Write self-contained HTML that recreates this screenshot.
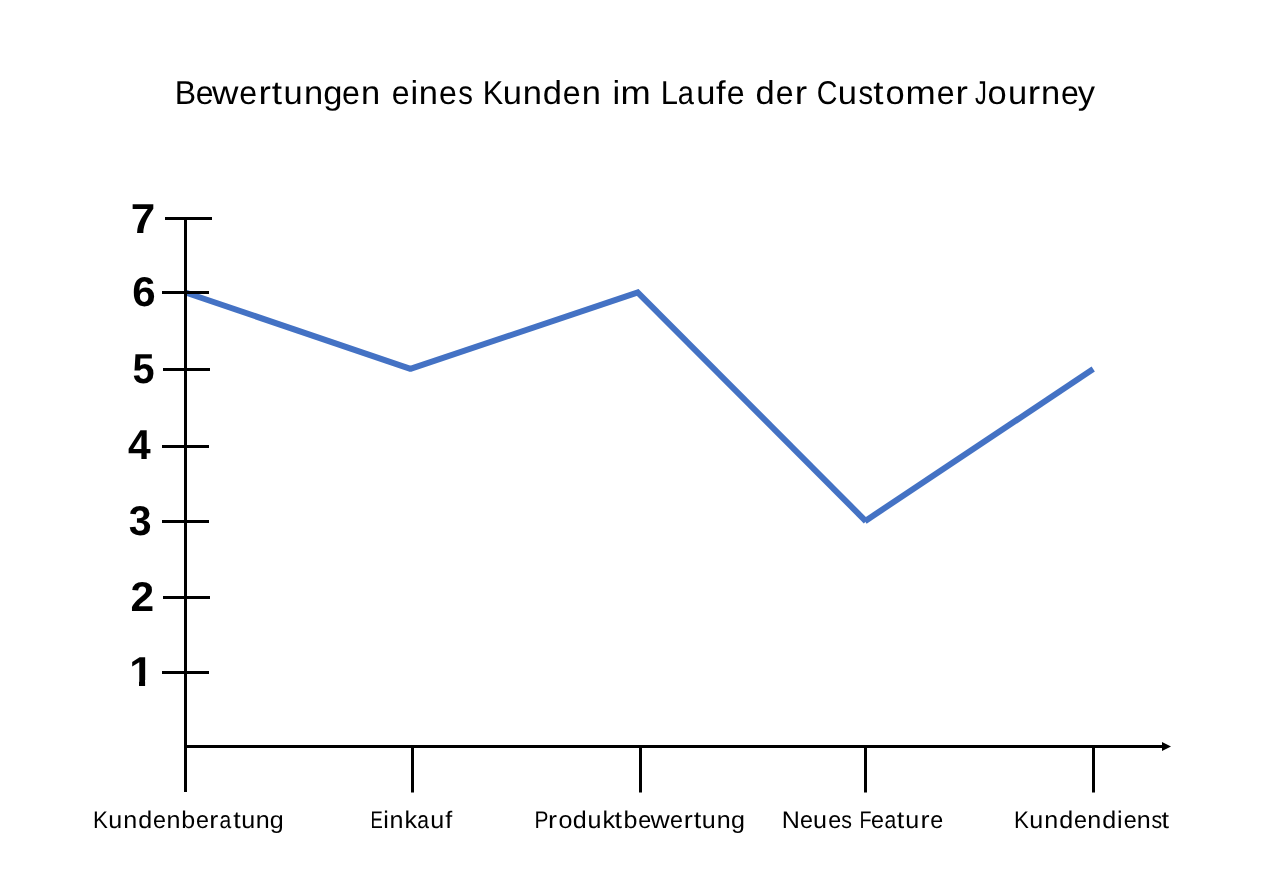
<!DOCTYPE html>
<html lang="de">
<head>
<meta charset="utf-8">
<title>Bewertungen eines Kunden im Laufe der Customer Journey</title>
<style>
  html, body { margin: 0; padding: 0; background: #ffffff; }
  body { width: 1280px; height: 888px; overflow: hidden; }
  svg { display: block; }
  text { font-family: "Liberation Sans", "DejaVu Sans", sans-serif; fill: #000000; text-rendering: geometricPrecision; }
  .title { font-size: 33px; }
  .xl { font-size: 24px; }
  .yl { font-size: 41.7px; font-weight: bold; }
</style>
</head>
<body>
<svg width="1280" height="888" viewBox="0 0 1280 888">
  <rect x="0" y="0" width="1280" height="888" fill="#ffffff"/>
  <defs>
    <clipPath id="nofoot">
      <rect x="120" y="640" width="40" height="40"/>
      <rect x="139.0" y="640" width="6.1" height="60"/>
    </clipPath>
  </defs>

  <!-- title -->
  <g class="title">
    <text transform="scale(1.045 1)" y="104.20"><tspan x="167.15" textLength="20.43" lengthAdjust="spacingAndGlyphs">B</tspan><tspan x="187.22" textLength="17.04" lengthAdjust="spacingAndGlyphs">e</tspan><tspan x="202.92" textLength="25.31" lengthAdjust="spacingAndGlyphs">w</tspan><tspan x="229.03" textLength="17.04" lengthAdjust="spacingAndGlyphs">e</tspan><tspan x="247.30" textLength="11.88" lengthAdjust="spacingAndGlyphs">r</tspan><tspan x="259.94" textLength="9.83" lengthAdjust="spacingAndGlyphs">t</tspan><tspan x="271.25 290.82 309.24">ung</tspan><tspan x="327.22" textLength="17.04" lengthAdjust="spacingAndGlyphs">e</tspan><tspan x="345.42">n</tspan> <tspan x="374.78" textLength="17.04" lengthAdjust="spacingAndGlyphs">e</tspan><tspan x="392.91 400.78">in</tspan><tspan x="420.04" textLength="17.04" lengthAdjust="spacingAndGlyphs">e</tspan><tspan x="438.55" textLength="14.05" lengthAdjust="spacingAndGlyphs">s</tspan> <tspan x="462.09" textLength="19.59" lengthAdjust="spacingAndGlyphs">K</tspan><tspan x="481.21 500.20 519.38">und</tspan><tspan x="538.51" textLength="17.04" lengthAdjust="spacingAndGlyphs">e</tspan><tspan x="556.76">n</tspan> <tspan x="586.12">i</tspan><tspan x="593.87" textLength="28.94" lengthAdjust="spacingAndGlyphs">m</tspan> <tspan x="632.30" textLength="16.51" lengthAdjust="spacingAndGlyphs">L</tspan><tspan x="648.58" textLength="15.46" lengthAdjust="spacingAndGlyphs">a</tspan><tspan x="666.18 685.08">uf</tspan><tspan x="695.35" textLength="17.04" lengthAdjust="spacingAndGlyphs">e</tspan> <tspan x="723.02">d</tspan><tspan x="742.43" textLength="17.04" lengthAdjust="spacingAndGlyphs">e</tspan><tspan x="760.60" textLength="11.88" lengthAdjust="spacingAndGlyphs">r</tspan> <tspan x="781.48" textLength="19.84" lengthAdjust="spacingAndGlyphs">C</tspan><tspan x="801.59">u</tspan><tspan x="821.51" textLength="14.05" lengthAdjust="spacingAndGlyphs">s</tspan><tspan x="835.73" textLength="9.83" lengthAdjust="spacingAndGlyphs">t</tspan><tspan x="847.42">o</tspan><tspan x="866.59" textLength="28.94" lengthAdjust="spacingAndGlyphs">m</tspan><tspan x="896.31" textLength="17.04" lengthAdjust="spacingAndGlyphs">e</tspan><tspan x="914.47" textLength="11.88" lengthAdjust="spacingAndGlyphs">r</tspan> <tspan x="933.14" textLength="11.37" lengthAdjust="spacingAndGlyphs">J</tspan><tspan x="945.03 964.56">ou</tspan><tspan x="983.47" textLength="11.88" lengthAdjust="spacingAndGlyphs">r</tspan><tspan x="996.18">n</tspan><tspan x="1015.25" textLength="17.04" lengthAdjust="spacingAndGlyphs">e</tspan><tspan x="1031.31">y</tspan></text>
  </g>

  <!-- data line -->
  <g stroke="#4472c4" stroke-width="6" stroke-linecap="butt" fill="none">
    <line x1="185.50" y1="292.50" x2="411.20" y2="369.07"/>
    <line x1="409.59" y1="369.07" x2="639.46" y2="291.96"/>
    <line x1="636.39" y1="291.23" x2="865.96" y2="521.26"/>
    <line x1="864.96" y1="521.16" x2="1093.20" y2="369.10"/>
  </g>

  <!-- axes -->
  <g fill="#000000">
    <rect x="184" y="217" width="3" height="575"/>
    <rect x="184" y="745" width="979" height="3"/>
    <polygon points="1162,742 1171,746.5 1162,751"/>
    <!-- y ticks -->
    <rect x="165" y="217" width="47" height="3"/>
    <rect x="162" y="291" width="47" height="3"/>
    <rect x="163" y="368" width="47" height="3"/>
    <rect x="162" y="445" width="47" height="3"/>
    <rect x="162" y="520" width="47" height="3"/>
    <rect x="163" y="596" width="47" height="3"/>
    <rect x="162" y="671" width="47" height="3"/>
    <!-- x ticks -->
    <rect x="411" y="745" width="3" height="47.5"/>
    <rect x="639" y="745" width="3" height="47.5"/>
    <rect x="864" y="745" width="3" height="47.5"/>
    <rect x="1092" y="745" width="3" height="47.5"/>
  </g>

  <!-- y labels -->
  <g class="yl">
    <text x="130.80" y="233.00" textLength="24.50" lengthAdjust="spacingAndGlyphs">7</text>
    <text x="132.18" y="306.00" textLength="23.42" lengthAdjust="spacingAndGlyphs">6</text>
    <text x="132.47" y="383.00" textLength="22.06" lengthAdjust="spacingAndGlyphs">5</text>
    <text x="128.11" y="459.00" textLength="22.67" lengthAdjust="spacingAndGlyphs">4</text>
    <text x="128.72" y="535.00" textLength="22.85" lengthAdjust="spacingAndGlyphs">3</text>
    <text x="130.57" y="611.00" textLength="23.65" lengthAdjust="spacingAndGlyphs">2</text>
    <text x="129.18" y="686.00" textLength="23.89" lengthAdjust="spacingAndGlyphs" clip-path="url(#nofoot)">1</text>
  </g>

  <!-- x labels -->
  <g class="xl">
    <text transform="scale(1.045 1)" y="827.70"><tspan x="89.01" textLength="14.25" lengthAdjust="spacingAndGlyphs">K</tspan><tspan x="103.61 117.93 132.20">und</tspan><tspan x="146.47" textLength="12.39" lengthAdjust="spacingAndGlyphs">e</tspan><tspan x="159.27 173.57">nb</tspan><tspan x="187.57" textLength="12.39" lengthAdjust="spacingAndGlyphs">e</tspan><tspan x="200.29" textLength="8.64" lengthAdjust="spacingAndGlyphs">r</tspan><tspan x="210.15" textLength="11.24" lengthAdjust="spacingAndGlyphs">a</tspan><tspan x="223.15" textLength="7.15" lengthAdjust="spacingAndGlyphs">t</tspan><tspan x="230.98 244.82 258.10">ung</tspan></text>
    <text transform="scale(1.045 1)" y="827.70"><tspan x="354.53" textLength="11.80" lengthAdjust="spacingAndGlyphs">E</tspan><tspan x="366.72 372.76 387.09">ink</tspan><tspan x="399.24" textLength="11.24" lengthAdjust="spacingAndGlyphs">a</tspan><tspan x="411.65 426.00">uf</tspan></text>
    <text transform="scale(1.045 1)" y="827.70"><tspan x="511.38" textLength="13.33" lengthAdjust="spacingAndGlyphs">P</tspan><tspan x="524.50" textLength="8.64" lengthAdjust="spacingAndGlyphs">r</tspan><tspan x="534.40 548.18 562.32 576.47">oduk</tspan><tspan x="587.94" textLength="7.15" lengthAdjust="spacingAndGlyphs">t</tspan><tspan x="596.73">b</tspan><tspan x="610.73" textLength="12.39" lengthAdjust="spacingAndGlyphs">e</tspan><tspan x="622.53" textLength="18.41" lengthAdjust="spacingAndGlyphs">w</tspan><tspan x="641.25" textLength="12.39" lengthAdjust="spacingAndGlyphs">e</tspan><tspan x="654.35" textLength="8.64" lengthAdjust="spacingAndGlyphs">r</tspan><tspan x="663.96" textLength="7.15" lengthAdjust="spacingAndGlyphs">t</tspan><tspan x="671.55 685.87 699.59">ung</tspan></text>
    <text transform="scale(1.045 1)" y="827.70"><tspan x="748.17">N</tspan><tspan x="765.61" textLength="12.39" lengthAdjust="spacingAndGlyphs">e</tspan><tspan x="778.06">u</tspan><tspan x="792.55" textLength="12.39" lengthAdjust="spacingAndGlyphs">e</tspan><tspan x="805.08" textLength="10.22" lengthAdjust="spacingAndGlyphs">s</tspan> <tspan x="822.52" textLength="11.50" lengthAdjust="spacingAndGlyphs">F</tspan><tspan x="833.55" textLength="12.39" lengthAdjust="spacingAndGlyphs">e</tspan><tspan x="846.51" textLength="11.24" lengthAdjust="spacingAndGlyphs">a</tspan><tspan x="858.18" textLength="7.15" lengthAdjust="spacingAndGlyphs">t</tspan><tspan x="866.34">u</tspan><tspan x="880.76" textLength="8.64" lengthAdjust="spacingAndGlyphs">r</tspan><tspan x="890.15" textLength="12.39" lengthAdjust="spacingAndGlyphs">e</tspan></text>
    <text transform="scale(1.045 1)" y="827.70"><tspan x="970.40" textLength="14.25" lengthAdjust="spacingAndGlyphs">K</tspan><tspan x="984.95 999.27 1013.54">und</tspan><tspan x="1027.76" textLength="12.39" lengthAdjust="spacingAndGlyphs">e</tspan><tspan x="1040.51 1054.73 1068.97">ndi</tspan><tspan x="1075.42" textLength="12.39" lengthAdjust="spacingAndGlyphs">e</tspan><tspan x="1087.88">n</tspan><tspan x="1102.01" textLength="10.22" lengthAdjust="spacingAndGlyphs">s</tspan><tspan x="1111.52" textLength="7.15" lengthAdjust="spacingAndGlyphs">t</tspan></text>
  </g>
</svg>
</body>
</html>
